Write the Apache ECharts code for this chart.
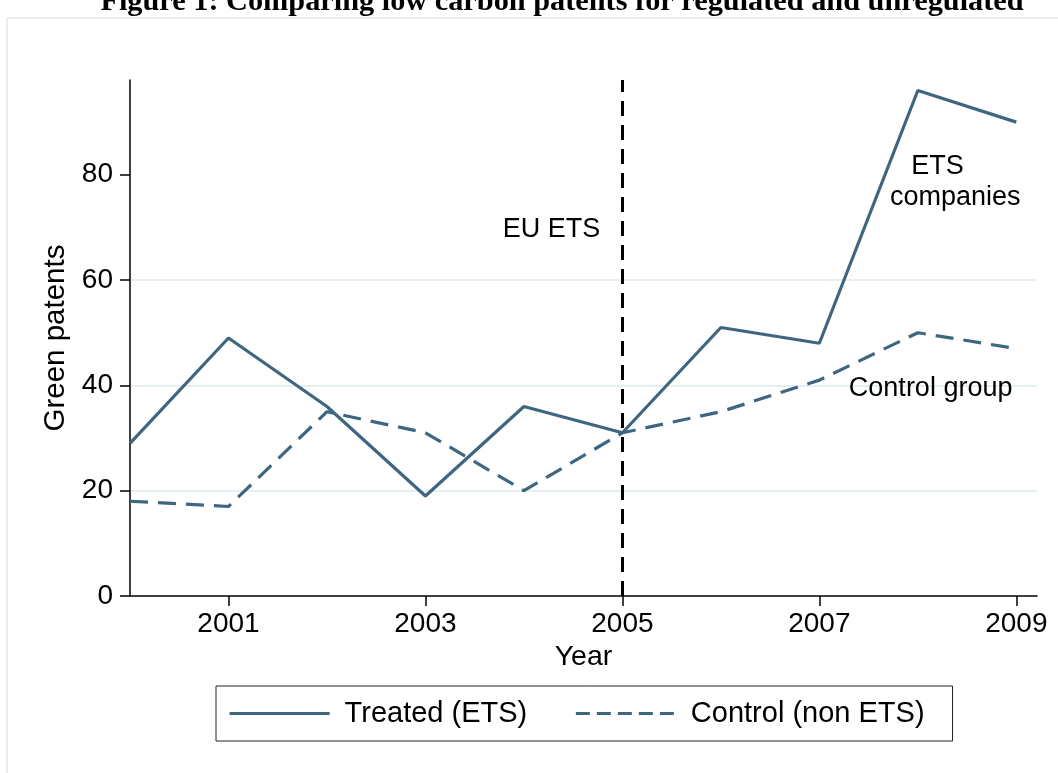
<!DOCTYPE html>
<html>
<head>
<meta charset="utf-8">
<script src="https://cdn.jsdelivr.net/npm/echarts@6/dist/echarts.min.js"></script>
<style>
  html, body { margin: 0; padding: 0; background: #fff; }
  #chart { width: 1058px; height: 773px; }
</style>
</head>
<body>
<div id="chart"></div>
<script>
// data
var years = [2000, 2001, 2002, 2003, 2004, 2005, 2006, 2007, 2008, 2009];
var treated = [29, 49, 36, 19, 36, 31, 51, 48, 96, 90];
var control = [18, 17, 35, 31, 20, 31, 35, 41, 50, 47];
var xTicks = [2001, 2003, 2005, 2007, 2009];
var yTicks = [0, 20, 40, 60, 80];
var policyYear = 2005;
var notes = [
  { text: "EU ETS", at: [2004.28, 69.6] },
  { text: "ETS", at: [2008.2, 81.6] },
  { text: "companies", at: [2008.38, 75.7] },
  { text: "Control group", at: [2008.13, 39.4] }
];

var lineColor = "#3f6681";
var font = "'Liberation Sans', Arial, Helvetica, sans-serif";

function pairs(ys) {
  return years.map(function (y, i) { return [y, ys[i]]; });
}

var chart = echarts.init(document.getElementById("chart"));
chart.setOption({
  backgroundColor: "#fff",
  animation: false,
  textStyle: { fontFamily: font },
  graphic: [
    {
      type: "rect",
      shape: { x: 7, y: 18, width: 1200, height: 900 },
      style: { fill: "none", stroke: "#e6e6e6", lineWidth: 1.5 },
      silent: true
    },
    {
      type: "text",
      x: 562,
      y: 17,
      style: {
        text: "Figure 1: Comparing low carbon patents for regulated and unregulated",
        fontFamily: "'Liberation Serif', 'Times New Roman', serif",
        fontWeight: "bold",
        fontSize: 30.3,
        fill: "#000",
        align: "center",
        verticalAlign: "bottom"
      },
      z: 10
    }
  ],
  grid: { left: 130, top: 80, right: 21, bottom: 177 },
  legend: {
    left: 216,
    top: 686,
    orient: "horizontal",
    padding: [13, 28, 13, 12],
    itemGap: 47,
    itemWidth: 100,
    itemHeight: 14,
    borderColor: "#222",
    borderWidth: 1,
    itemStyle: { opacity: 0 },
    lineStyle: { width: 3.2 },
    textStyle: { fontSize: 29, color: "#000", fontFamily: font, padding: [0, 0, 0, 10] },
    data: [
      { name: "Treated (ETS)" },
      { name: "Control (non ETS)", lineStyle: { type: [14, 7] } }
    ]
  },
  xAxis: {
    type: "value",
    min: 2000,
    max: 2009.21,
    name: "Year",
    nameLocation: "middle",
    nameGap: 47,
    nameTextStyle: { fontSize: 28.5, color: "#000" },
    axisLine: { lineStyle: { color: "#000", width: 1.5 } },
    axisTick: { show: true, length: 10, customValues: xTicks, lineStyle: { color: "#000", width: 1.5 } },
    axisLabel: {
      customValues: xTicks, fontSize: 28, color: "#000", margin: 14,
      formatter: function (v) { return String(v); }
    },
    splitLine: { show: false }
  },
  yAxis: {
    type: "value",
    min: 0,
    max: 98,
    interval: 20,
    name: "Green patents",
    nameLocation: "middle",
    nameGap: 59,
    nameTextStyle: { fontSize: 29.5, color: "#000" },
    axisLine: { show: true, lineStyle: { color: "#000", width: 1.5 } },
    axisTick: { show: true, length: 10, customValues: yTicks, lineStyle: { color: "#000", width: 1.5 } },
    axisLabel: { customValues: yTicks, fontSize: 28, color: "#000", margin: 17 },
    splitLine: {
      show: true,
      showMinLine: false,
      showMaxLine: false,
      lineStyle: { color: "#e6eff2", width: 2 }
    }
  },
  series: [
    {
      name: "Treated (ETS)",
      type: "line",
      data: pairs(treated),
      symbol: "none",
      color: lineColor,
      lineStyle: { color: lineColor, width: 3.2 },
      z: 3,
      markLine: {
        silent: true,
        symbol: "none",
        label: { show: false },
        lineStyle: { color: "#000", width: 3, type: [15, 9] },
        data: [{ xAxis: policyYear }]
      },
      markPoint: {
        silent: true,
        symbol: "circle",
        symbolSize: 0,
        label: {
          show: true,
          position: "inside",
          color: "#000",
          fontSize: 27,
          fontFamily: font,
          formatter: function (p) { return p.name; }
        },
        data: notes.map(function (n) { return { name: n.text, coord: n.at }; })
      }
    },
    {
      name: "Control (non ETS)",
      type: "line",
      data: pairs(control),
      symbol: "none",
      color: lineColor,
      lineStyle: { color: lineColor, width: 3.2, type: [18, 10] },
      z: 2
    }
  ]
});
</script>
</body>
</html>
